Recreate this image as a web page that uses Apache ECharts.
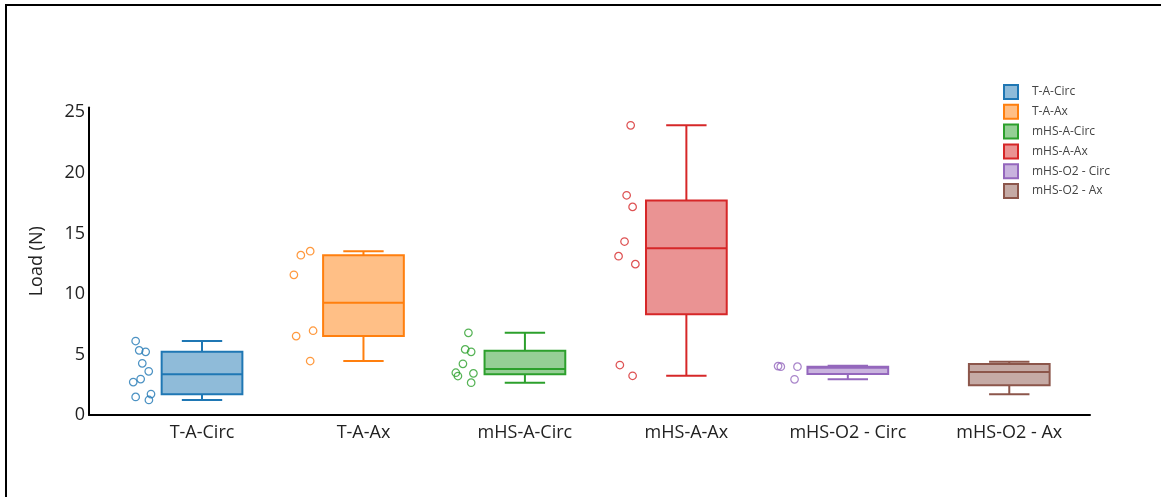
<!DOCTYPE html>
<html>
<head>
<meta charset="utf-8">
<title>Load (N) by configuration</title>
<script src="https://cdn.jsdelivr.net/npm/echarts@6/dist/echarts.min.js"></script>
<style>
  html, body { margin: 0; padding: 0; background: #fff; }
  #chart { width: 1167px; height: 497px; }
</style>
</head>
<body>
<div id="chart"></div>
<script>
// Groups along the x axis
const categories = ['T-A-Circ', 'T-A-Ax', 'mHS-A-Circ', 'mHS-A-Ax', 'mHS-O2 - Circ', 'mHS-O2 - Ax'];
const colors = ['#1f77b4', '#ff7f0e', '#2ca02c', '#d62728', '#9467bd', '#8c564b'];

// Box summary per group (N)
const whiskerLow  = [1.24, 4.46, 2.67, 3.24, 2.95, 1.71];
const quartile1   = [1.71, 6.52, 3.36, 8.33, 3.38, 2.45];
const medians     = [3.36, 9.27, 3.80, 13.78, 3.90, 3.55];
const quartile3   = [5.22, 13.20, 5.30, 17.71, 3.99, 4.21];
const whiskerHigh = [6.11, 13.53, 6.79, 23.93, 4.07, 4.40];

// Individual measurements (N) and their jitter offsets (category units)
const pointsTACirc   = [6.11, 5.34, 5.22, 4.27, 3.61, 2.97, 2.72, 1.49, 1.73, 1.24];
const jitterTACirc   = [-0.411, -0.389, -0.349, -0.370, -0.330, -0.380, -0.426, -0.411, -0.316, -0.329];
const pointsTAAx     = [13.53, 13.20, 11.58, 6.96, 6.52, 4.46];
const jitterTAAx     = [-0.330, -0.388, -0.431, -0.312, -0.417, -0.330];
const pointsMHSACirc = [6.79, 5.42, 5.22, 4.23, 3.49, 3.22, 3.44, 2.67];
const jitterMHSACirc = [-0.350, -0.370, -0.333, -0.384, -0.428, -0.415, -0.319, -0.333];
const pointsMHSAAx   = [23.93, 18.15, 17.19, 14.33, 13.12, 12.46, 4.13, 3.24];
const jitterMHSAAx   = [-0.345, -0.370, -0.333, -0.383, -0.420, -0.316, -0.412, -0.333];
const pointsMHSO2Circ = [4.04, 3.99, 3.99, 2.95];
const jitterMHSO2Circ = [-0.432, -0.415, -0.312, -0.330];

const pointSets = [
  [pointsTACirc, jitterTACirc],
  [pointsTAAx, jitterTAAx],
  [pointsMHSACirc, jitterMHSACirc],
  [pointsMHSAAx, jitterMHSAAx],
  [pointsMHSO2Circ, jitterMHSO2Circ],
  null
];

const yTicks = [0, 5, 10, 15, 20, 25];

function withAlpha(hex, a) {
  const n = parseInt(hex.slice(1), 16);
  return 'rgba(' + ((n >> 16) & 255) + ',' + ((n >> 8) & 255) + ',' + (n & 255) + ',' + a + ')';
}

const BOX_HALF = 0.25;   // half box width, category units
const CAP_HALF = 0.125;  // half whisker cap width

function makeBoxRenderer(color) {
  return function (params, api) {
    const x = api.value(0);
    const lo = api.value(1), q1 = api.value(2), md = api.value(3), q3 = api.value(4), hi = api.value(5);
    const pL = api.coord([x - BOX_HALF, q3]);
    const pR = api.coord([x + BOX_HALF, q1]);
    const cx = api.coord([x, 0])[0];
    const capL = api.coord([x - CAP_HALF, 0])[0];
    const capR = api.coord([x + CAP_HALF, 0])[0];
    const yLo = api.coord([x, lo])[1], yQ1 = pR[1], yMd = api.coord([x, md])[1], yQ3 = pL[1], yHi = api.coord([x, hi])[1];
    const line = { stroke: color, lineWidth: 2 };
    return {
      type: 'group',
      children: [
        { type: 'line', shape: { x1: cx, y1: yQ3, x2: cx, y2: yHi }, style: line },
        { type: 'line', shape: { x1: cx, y1: yQ1, x2: cx, y2: yLo }, style: line },
        { type: 'line', shape: { x1: capL, y1: yHi, x2: capR, y2: yHi }, style: line },
        { type: 'line', shape: { x1: capL, y1: yLo, x2: capR, y2: yLo }, style: line },
        { type: 'rect', shape: { x: pL[0], y: yQ3, width: pR[0] - pL[0], height: yQ1 - yQ3 },
          style: { fill: withAlpha(color, 0.5), stroke: color, lineWidth: 2 } },
        { type: 'line', shape: { x1: pL[0], y1: yMd, x2: pR[0], y2: yMd }, style: line }
      ]
    };
  };
}

const series = [];
categories.forEach(function (name, i) {
  series.push({
    name: name,
    type: 'custom',
    renderItem: makeBoxRenderer(colors[i]),
    data: [[i, whiskerLow[i], quartile1[i], medians[i], quartile3[i], whiskerHigh[i]]],
    encode: { x: 0, y: [1, 2, 3, 4, 5] },
    itemStyle: { color: colors[i] },
    z: 2
  });
  const ps = pointSets[i];
  if (ps) {
    series.push({
      name: name,
      type: 'scatter',
      symbol: 'circle',
      symbolSize: 7.5,
      itemStyle: { color: 'rgba(0,0,0,0)', borderColor: colors[i], borderWidth: 1.25 },
      data: ps[0].map(function (v, k) { return [i + ps[1][k], v]; }),
      z: 3,
      emphasis: { disabled: true }
    });
  }
});

const chart = echarts.init(document.getElementById('chart'), null, { renderer: 'canvas' });
chart.setOption({
  animation: false,
  backgroundColor: '#ffffff',
  textStyle: { fontFamily: '"Open Sans", "Noto Sans", sans-serif' },
  grid: { left: 89, right: 77, top: 107.5, bottom: 82, containLabel: false },
  legend: {
    orient: 'vertical',
    left: 998,
    top: 79,
    itemWidth: 14,
    itemHeight: 14,
    itemGap: 3.8,
    icon: 'rect',
    textStyle: { fontSize: 12, color: '#444', padding: [0, 0, 0, 9] },
    data: categories.map(function (name, i) {
      return {
        name: name,
        icon: 'rect',
        itemStyle: { color: withAlpha(colors[i], 0.5), borderColor: colors[i], borderWidth: 2 }
      };
    })
  },
  xAxis: {
    type: 'value',
    min: -0.7,
    max: 5.5,
    splitLine: { show: false },
    axisTick: { show: false },
    axisLine: { show: true, onZero: false, lineStyle: { color: '#000', width: 2 } },
    axisLabel: {
      customValues: categories.map(function (c, i) { return i; }),
      formatter: function (v) { return categories[Math.round(v)]; },
      fontSize: 18,
      color: '#222',
      margin: 9
    }
  },
  yAxis: {
    type: 'value',
    min: 0,
    max: 25.4,
    name: 'Load (N)',
    nameLocation: 'middle',
    nameRotate: 90,
    nameGap: 43,
    nameTextStyle: { fontSize: 18, color: '#222' },
    splitLine: { show: false },
    axisTick: { show: false },
    axisLine: { show: true, onZero: false, lineStyle: { color: '#000', width: 2 } },
    axisLabel: { customValues: yTicks, fontSize: 18, color: '#222', margin: 4 }
  },
  graphic: [
    { type: 'polyline', silent: true,
      shape: { points: [[6, 497], [6, 5], [1161, 5]] },
      style: { stroke: '#000', lineWidth: 2, fill: null } }
  ],
  series: series
});
</script>
</body>
</html>
